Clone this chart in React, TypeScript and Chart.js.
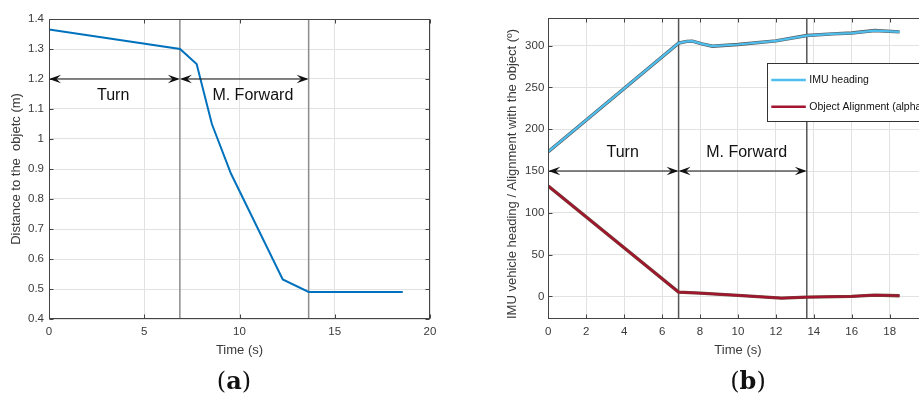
import React, { useEffect, useRef } from "react";
import { Chart, registerables } from "chart.js";
Chart.register(...registerables);

// ---------- data (a) ----------
const timeA = [0, 6.88, 7.75, 8.55, 9.55, 12.27, 13.63, 18.57];
const distA = [1.365, 1.3, 1.25, 1.05, 0.885, 0.532, 0.49, 0.49];

// ---------- data (b) ----------
const timeIMU = [0, 6.87, 7.3, 7.6, 8.1, 8.65, 10, 12, 13.63, 15, 16, 17.2, 18.52];
const imuHeading = [173, 303, 305, 305.3, 302, 299.3, 301.3, 305.6, 312, 314, 315, 318, 316.4];
const timeAlign = [0, 6.87, 8, 10, 12.3, 13.63, 16, 17.2, 18.52];
const objAlign = [132, 5.2, 4, 1.2, -2, -0.8, 0, 1.6, 0.8];

// ---------- annotations ----------
const phaseBounds = [0, 6.87, 13.63];
const phaseLabels = ["Turn", "M. Forward"];
const labelXA = [3.37, 10.7];
const labelYA = 1.145;
const arrowYA = 1.2;
const labelXB = [3.92, 10.46];
const labelYB = 172;
const arrowYB = 150;
const legendLabels = ["IMU heading", "Object Alignment (alpha)"];

const FONT = "'Liberation Sans', Arial, Helvetica, sans-serif";
const TICK_COLOR = "#3a3a3a";

function arrowHead(ctx: CanvasRenderingContext2D, x: number, y: number, dir: number) {
  const L = 12, W = 4.2, N = 7.5;
  ctx.beginPath();
  ctx.moveTo(x, y);
  ctx.lineTo(x + dir * L, y - W);
  ctx.lineTo(x + dir * N, y);
  ctx.lineTo(x + dir * L, y + W);
  ctx.closePath();
  ctx.fill();
}

const annoPlugin = {
  id: "phaseAnno",
  beforeDatasetsDraw(chart: any, _a: any, o: any) {
    const { ctx, chartArea: ca, scales } = chart;
    const x = scales.x;
    ctx.save();
    ctx.strokeStyle = o.lineColor;
    ctx.lineWidth = 1.5;
    o.bounds.slice(1).forEach((b: number) => {
      const px = x.getPixelForValue(b);
      ctx.beginPath();
      ctx.moveTo(px, ca.top);
      ctx.lineTo(px, ca.bottom);
      ctx.stroke();
    });
    ctx.restore();
  },
  afterDatasetsDraw(chart: any, _a: any, o: any) {
    const { ctx, chartArea: ca, scales } = chart;
    const x = scales.x, y = scales.y;
    ctx.save();
    // frame
    ctx.strokeStyle = "#444";
    ctx.lineWidth = 1;
    const l = Math.round(ca.left) + 0.5, t = Math.round(ca.top) + 0.5;
    const r = Math.round(ca.right) - 0.5, b = Math.round(ca.bottom) - 0.5;
    ctx.strokeRect(l, t, r - l, b - t);
    // inward ticks
    const TL = 4;
    ctx.beginPath();
    x.ticks.forEach((tk: any) => {
      const px = Math.round(x.getPixelForValue(tk.value)) + 0.5;
      ctx.moveTo(px, b); ctx.lineTo(px, b - TL);
      ctx.moveTo(px, t); ctx.lineTo(px, t + TL);
    });
    y.ticks.forEach((tk: any) => {
      const py = Math.round(y.getPixelForValue(tk.value)) + 0.5;
      ctx.moveTo(l, py); ctx.lineTo(l + TL, py);
      ctx.moveTo(r, py); ctx.lineTo(r - TL, py);
    });
    ctx.stroke();
    // arrows
    ctx.strokeStyle = "#111";
    ctx.fillStyle = "#111";
    ctx.lineWidth = 1.2;
    const py = y.getPixelForValue(o.arrowY);
    for (let i = 0; i < o.bounds.length - 1; i++) {
      const x1 = x.getPixelForValue(o.bounds[i]);
      const x2 = x.getPixelForValue(o.bounds[i + 1]);
      ctx.beginPath();
      ctx.moveTo(x1 + 2, py);
      ctx.lineTo(x2 - 2, py);
      ctx.stroke();
      arrowHead(ctx, x1, py, 1);
      arrowHead(ctx, x2, py, -1);
    }
    // labels
    ctx.font = `16px ${FONT}`;
    ctx.textAlign = "center";
    ctx.textBaseline = "middle";
    o.labels.forEach((s: string, i: number) => {
      ctx.fillText(s, x.getPixelForValue(o.labelX[i]), y.getPixelForValue(o.labelY));
    });
    // legend
    if (o.legend) {
      const lx = ca.left + 219, ly = ca.top + 45;
      const w = 170, h = 58;
      ctx.fillStyle = "#fff";
      ctx.fillRect(lx, ly, w, h);
      ctx.strokeStyle = "#333";
      ctx.lineWidth = 1;
      ctx.strokeRect(Math.round(lx) + 0.5, Math.round(ly) + 0.5, w, h);
      ctx.font = `10.5px ${FONT}`;
      ctx.textAlign = "left";
      ctx.fillStyle = "#111";
      o.legend.forEach((it: any, i: number) => {
        const yy = ly + 17 + i * 26.7;
        ctx.strokeStyle = it.color;
        ctx.lineWidth = 2.5;
        ctx.beginPath();
        ctx.moveTo(lx + 4, yy);
        ctx.lineTo(lx + 38.5, yy);
        ctx.stroke();
        ctx.fillStyle = "#111";
        ctx.fillText(it.label, lx + 42, yy + 0.5);
      });
    }
    ctx.restore();
  },
};

function baseScales(opts: any) {
  const tickFont = { family: FONT, size: 11.5 };
  const titleFont = { family: FONT, size: 13 };
  return {
    x: {
      type: "linear",
      min: opts.xMin,
      max: opts.xMax,
      afterFit: (s: any) => { s.height = 40; },
      grid: { color: "#e2e2e2", drawTicks: false },
      border: { display: false },
      ticks: { stepSize: opts.xStep, font: tickFont, color: TICK_COLOR, padding: 6, maxRotation: 0, includeBounds: false },
      title: { display: true, text: "Time (s)", font: titleFont, color: TICK_COLOR, padding: { top: 0, bottom: 1 } },
    },
    y: {
      type: "linear",
      min: opts.yMin,
      max: opts.yMax,
      afterFit: (s: any) => { s.width = opts.yWidth; },
      grid: { color: "#e2e2e2", drawTicks: false },
      border: { display: false },
      ticks: {
        stepSize: opts.yStep,
        font: tickFont,
        color: TICK_COLOR,
        padding: opts.yPad,
        includeBounds: false,
        callback: (v: number) => String(Number(Number(v).toFixed(2))),
      },
      title: { display: true, text: opts.yTitle, font: titleFont, color: TICK_COLOR, padding: { top: opts.yTitlePad, bottom: 0 } },
    },
  };
}

function pts(xs: number[], ys: number[]) {
  return xs.map((t, i) => ({ x: t, y: ys[i] }));
}

function ChartA() {
  const ref = useRef<HTMLCanvasElement>(null);
  useEffect(() => {
    const chart = new Chart(ref.current as HTMLCanvasElement, {
      type: "line",
      data: {
        datasets: [
          { data: pts(timeA, distA), borderColor: "#0072BD", borderWidth: 2, pointRadius: 0, tension: 0 },
        ],
      },
      options: {
        animation: false,
        responsive: false,
        maintainAspectRatio: false,
        layout: { padding: { left: 0, top: 19, right: 30, bottom: 38 } },
        scales: baseScales({
          xMin: 0, xMax: 20, xStep: 5, yMin: 0.4, yMax: 1.4, yStep: 0.1,
          yWidth: 49, yPad: 5, yTitle: "Distance to the  objetc (m)", yTitlePad: 9,
        }) as any,
        plugins: {
          legend: { display: false },
          tooltip: { enabled: false },
          phaseAnno: {
            bounds: phaseBounds, labels: phaseLabels, labelX: labelXA, labelY: labelYA,
            arrowY: arrowYA, lineColor: "#8c8c8c",
          },
        } as any,
      },
      plugins: [annoPlugin as any],
    });
    return () => chart.destroy();
  }, []);
  return <canvas ref={ref} width={460} height={397} style={{ position: "absolute", left: 0, top: 0 }} />;
}

function ChartB() {
  const ref = useRef<HTMLCanvasElement>(null);
  useEffect(() => {
    const chart = new Chart(ref.current as HTMLCanvasElement, {
      type: "line",
      data: {
        // Chart.js draws the first dataset on top, so the coloured lines come first
        datasets: [
          { label: legendLabels[0], data: pts(timeIMU, imuHeading), borderColor: "#4DBEEE", borderWidth: 2.2, pointRadius: 0, tension: 0 },
          { label: legendLabels[1], data: pts(timeAlign, objAlign), borderColor: "#A2142F", borderWidth: 2.2, pointRadius: 0, tension: 0 },
          { label: "imu-edge", data: pts(timeIMU, imuHeading), borderColor: "#5a5a5a", borderWidth: 3.4, pointRadius: 0, tension: 0 },
          { label: "align-edge", data: pts(timeAlign, objAlign), borderColor: "#6e4a36", borderWidth: 3.4, pointRadius: 0, tension: 0 },
        ],
      },
      options: {
        animation: false,
        responsive: false,
        maintainAspectRatio: false,
        layout: { padding: { left: 0, top: 18, right: 10.4, bottom: 38 } },
        scales: baseScales({
          xMin: 0, xMax: 20, xStep: 2, yMin: -27, yMax: 333, yStep: 50,
          yWidth: 68.3, yPad: 4, yTitle: "IMU vehicle heading / Alignment with the object (º)   ", yTitlePad: 25,
        }) as any,
        plugins: {
          legend: { display: false },
          tooltip: { enabled: false },
          phaseAnno: {
            bounds: phaseBounds, labels: phaseLabels, labelX: labelXB, labelY: labelYB,
            arrowY: arrowYB, lineColor: "#555",
            legend: [
              { label: legendLabels[0], color: "#4DBEEE" },
              { label: legendLabels[1], color: "#A2142F" },
            ],
          },
        } as any,
      },
      plugins: [annoPlugin as any],
    });
    return () => chart.destroy();
  }, []);
  return <canvas ref={ref} width={460} height={397} style={{ position: "absolute", left: 480, top: 0 }} />;
}

const capStyle: React.CSSProperties = {
  position: "absolute",
  top: 364,
  width: 100,
  textAlign: "center",
  fontFamily: "'DejaVu Serif', 'Liberation Serif', serif",
  fontSize: 24,
  lineHeight: "34px",
  color: "#111",
};

export default function App() {
  return (
    <div style={{ position: "fixed", left: 0, top: 0, width: 919, height: 397, overflow: "hidden", background: "#fff" }}>
      <ChartA />
      <ChartB />
      <div style={{ ...capStyle, left: 234 - 50 }}>(<b>a</b>)</div>
      <div style={{ ...capStyle, left: 748 - 50 }}>(<b>b</b>)</div>
    </div>
  );
}
